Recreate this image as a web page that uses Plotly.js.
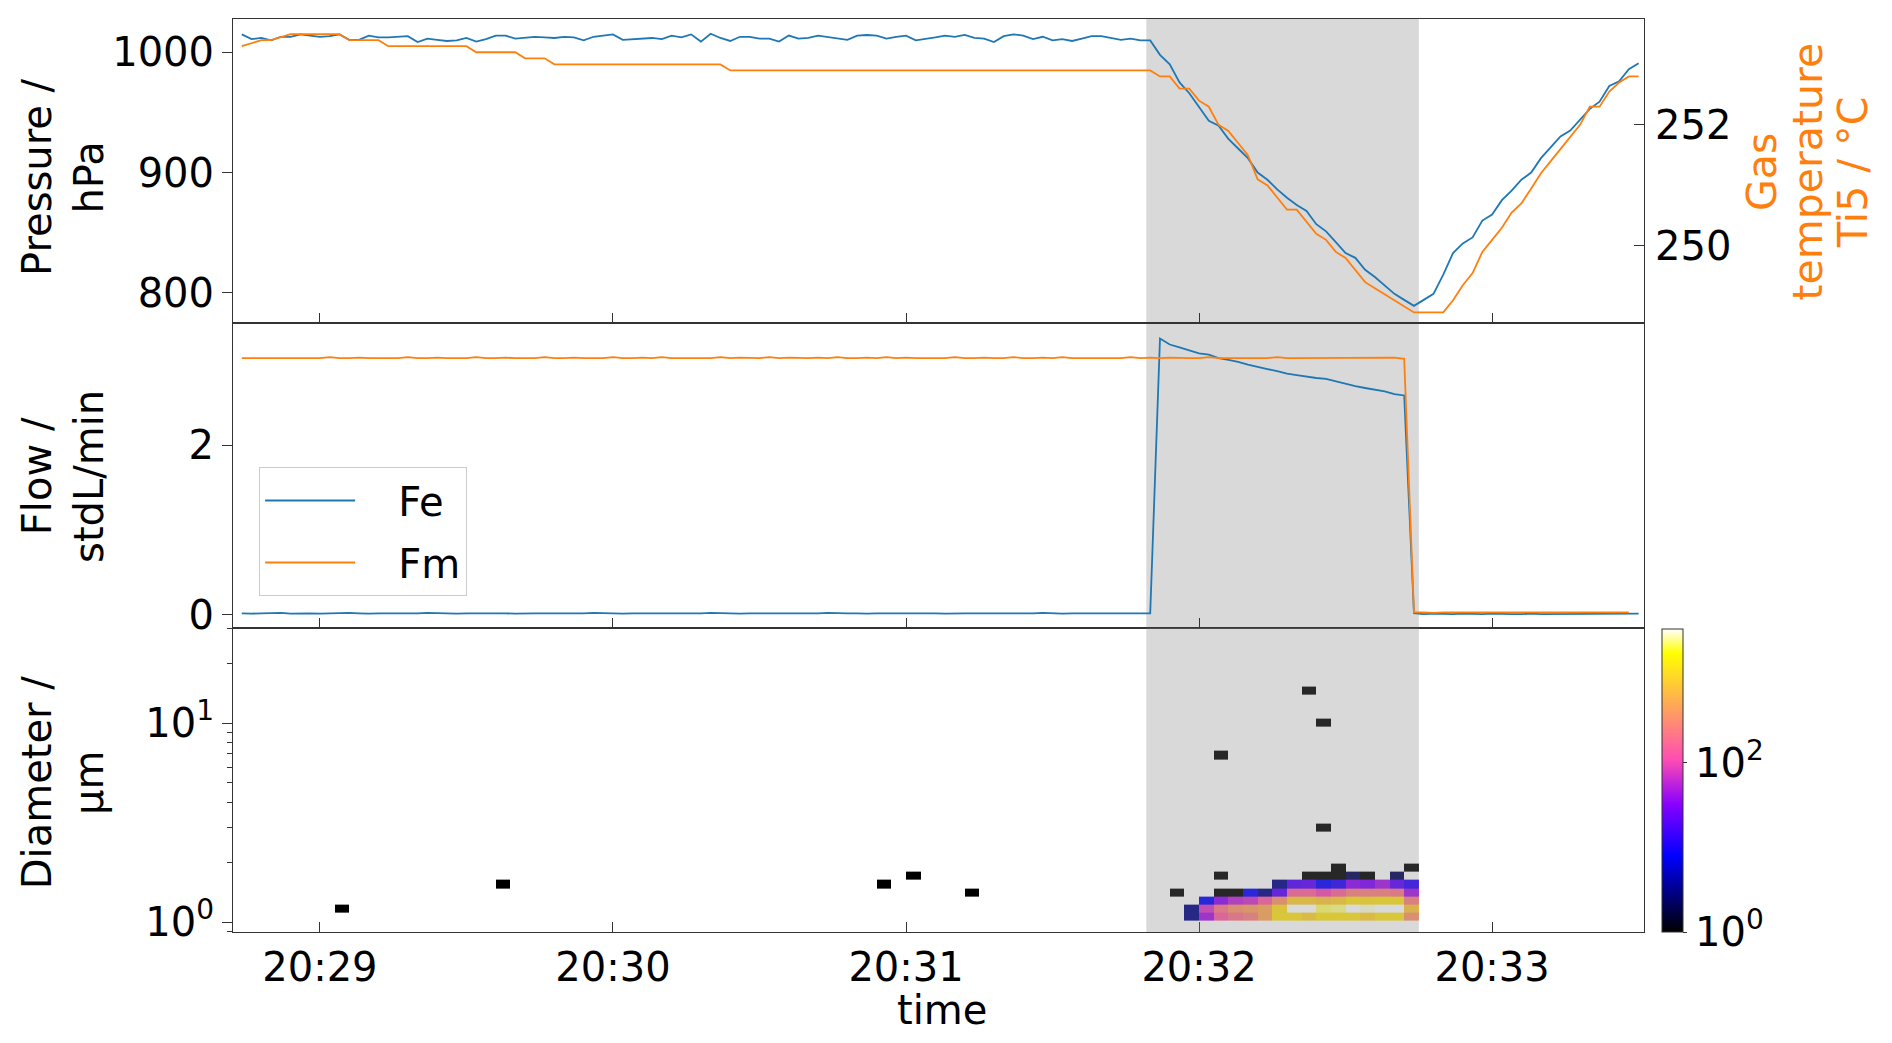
<!DOCTYPE html>
<html><head><meta charset="utf-8">
<script src="https://cdn.plot.ly/plotly-3.0.1.min.js"></script>
<style>html,body{margin:0;padding:0;background:#fff}#chart{width:1892px;height:1043px}</style>
</head><body><div id="chart"></div>
<script>
// ---------------- data ----------------
const DAY = '2024-01-01';
const sampleStart = '20:28:44';   // first sample
const sampleStep = 2;             // seconds between samples

const pressure = [
1015,1011,1012,1010,1013,1013,1015,1014,1013,1013.5,
1015,1010.5,1010.5,1014,1012.5,1012.5,1013,1013.5,1008.6,1011.5,
1010.5,1009.5,1010,1012,1009,1011,1014,1014,1011.5,1012,
1013,1012.5,1012,1013,1012.5,1010,1013,1014,1015,1010.5,
1011,1011.5,1012,1011,1014,1012.5,1015,1009,1015.5,1012,
1009.5,1013,1013,1011.5,1011.5,1009,1014,1011.5,1012,1014,
1013,1011.5,1010.5,1014,1014.5,1014,1011.5,1013,1014,1010,
1011,1012.5,1014,1013,1014.5,1012,1011.5,1008.6,1013.5,1015,
1014,1011,1013,1010,1011,1009.5,1011.5,1013.5,1013.5,1012,
1010.5,1011.5,1010,1010,998,990,975,966,955,943,
939,928,920,912,900,894,886,879,873,868,
857,851,842,833,829,819,813,806,799,794,
789,794,799,815,833,841,846,860,865,877,
885,894,900,912,921,930,935,944,953,959,
972,976,986,991];

const gasTemp = [
253.3,253.35,253.4,253.4,253.45,253.5,253.5,253.5,253.5,253.5,
253.5,253.4,253.4,253.4,253.4,253.3,253.3,253.3,253.3,253.3,
253.3,253.3,253.3,253.3,253.2,253.2,253.2,253.2,253.2,253.1,
253.1,253.1,253.0,253.0,253.0,253.0,253.0,253.0,253.0,253.0,
253.0,253.0,253.0,253.0,253.0,253.0,253.0,253.0,253.0,253.0,
252.9,252.9,252.9,252.9,252.9,252.9,252.9,252.9,252.9,252.9,
252.9,252.9,252.9,252.9,252.9,252.9,252.9,252.9,252.9,252.9,
252.9,252.9,252.9,252.9,252.9,252.9,252.9,252.9,252.9,252.9,
252.9,252.9,252.9,252.9,252.9,252.9,252.9,252.9,252.9,252.9,
252.9,252.9,252.9,252.9,252.8,252.8,252.6,252.6,252.4,252.3,
252.0,251.9,251.7,251.5,251.1,251.0,250.8,250.6,250.6,250.4,
250.2,250.1,249.9,249.8,249.6,249.4,249.3,249.2,249.1,249.0,
248.9,248.9,248.9,248.9,249.1,249.35,249.55,249.9,250.1,250.3,
250.55,250.7,250.95,251.2,251.4,251.6,251.8,252.0,252.3,252.3,
252.55,252.7,252.8,252.8];

const flowFe = [
0.02,0.015,0.02,0.02,0.025,0.015,0.02,0.02,0.015,0.02,
0.02,0.025,0.02,0.015,0.02,0.02,0.02,0.015,0.02,0.025,
0.02,0.02,0.015,0.02,0.02,0.02,0.025,0.02,0.015,0.02,
0.02,0.02,0.02,0.015,0.02,0.02,0.025,0.02,0.02,0.015,
0.02,0.02,0.02,0.02,0.015,0.02,0.02,0.02,0.025,0.02,
0.02,0.015,0.02,0.02,0.02,0.02,0.02,0.015,0.02,0.02,
0.025,0.02,0.02,0.02,0.015,0.02,0.02,0.02,0.02,0.025,
0.02,0.02,0.015,0.02,0.02,0.02,0.02,0.015,0.02,0.02,
0.02,0.02,0.025,0.02,0.015,0.02,0.02,0.02,0.015,0.02,
0.02,0.015,0.02,0.02,3.26,3.19,3.155,3.12,3.085,3.07,
3.03,3.008,2.985,2.952,2.922,2.90,2.876,2.846,2.83,2.81,
2.795,2.784,2.754,2.724,2.70,2.677,2.66,2.636,2.605,2.589,
0.02,0.01,0.015,0.01,0.01,0.015,0.01,0.01,0.015,0.01,
0.01,0.01,0.015,0.01,0.01,0.01,0.015,0.01,0.01,0.015,
0.01,0.01,0.01,0.015];

const flowFm = [
3.03,3.03,3.035,3.03,3.03,3.03,3.035,3.03,3.03,3.04,
3.03,3.03,3.035,3.03,3.03,3.03,3.03,3.04,3.03,3.03,
3.035,3.03,3.03,3.03,3.04,3.03,3.03,3.035,3.03,3.03,
3.03,3.04,3.03,3.03,3.035,3.03,3.03,3.03,3.04,3.03,
3.03,3.035,3.03,3.04,3.03,3.03,3.035,3.03,3.03,3.04,
3.03,3.035,3.03,3.03,3.04,3.03,3.035,3.03,3.03,3.035,
3.03,3.04,3.03,3.03,3.035,3.03,3.04,3.03,3.035,3.03,
3.03,3.035,3.03,3.04,3.03,3.03,3.035,3.03,3.03,3.04,
3.03,3.03,3.035,3.03,3.04,3.03,3.03,3.035,3.03,3.03,
3.03,3.04,3.03,3.035,3.03,3.035,3.03,3.03,3.03,3.04,
3.03,3.03,3.035,3.03,3.03,3.03,3.04,3.03,3.03,3.03,
3.035,3.03,3.03,3.03,3.03,3.035,3.03,3.03,3.035,3.02,
0.03,0.03,0.025,0.03,0.03,0.03,0.025,0.03,0.03,0.03,
0.03,0.025,0.03,0.03,0.03,0.03,0.025,0.03,0.03,0.03,
0.025,0.03,0.03];

// particle size distribution: 3-s time bins, log-spaced diameter bins (µm)
const binStart = '20:29:00';
const binSeconds = 3;
const binCount = 75;
const diameterEdges = [1.020,1.119,1.229,1.349,1.481,1.626,1.784,1.959,2.150,2.361,
  2.591,2.845,3.122,3.428,3.763,4.131,4.534,4.977,5.464,5.998,
  6.584,7.228,7.934,8.710,9.561,10.50,11.52,12.65,13.88,15.24];
// dense block: counts per diameter row, 16 time bins starting at 20:31:57
const blockStart = '20:31:57';
const countsRow0 = [3,45,140,200,250,480,1300,1300,1000,1300,1300,1300,1000,1300,1300,350];
const countsRow1 = [3,80,220,350,420,480,1200,3800,3800,2600,2800,3800,3500,3800,3800,800];
const countsRow2 = [null,8,35,60,70,140,350,900,900,800,900,1300,1200,1300,1300,250];
const countsRow3 = [null,null,1,1,8,3,20,160,160,100,160,250,250,250,220,45];
const countsRow4 = [null,null,null,null,null,null,3,18,20,8,11,35,30,45,20,12];
const countsRow5 = [null,null,1,null,null,null,null,null,1,1,1,2,1,null,2,null];
const countsRow6 = [null,null,null,null,null,null,null,null,null,null,1,null,null,null,null,1];
// isolated single counts
const singleTimes = ['20:29:03','20:29:36','20:30:54','20:31:00','20:31:12','20:31:54','20:32:03','20:32:21','20:32:24','20:32:24'];
const singleRows  = [1,4,4,5,3,3,20,28,24,11];
const singleCounts = [1,1,1,1,1,1,1,1,1,1];

const countMax = 3800;
const shadeStart = '20:31:49.2';
const shadeEnd = '20:32:45.0';
const viewStart = '20:28:42.2';
const viewEnd = '20:33:31.1';
const timeTicks = ['20:29:00','20:30:00','20:31:00','20:32:00','20:33:00'];
const timeTickText = ['20:29','20:30','20:31','20:32','20:33'];

// ---------------- helpers ----------------
function toSec(s){const p=s.split(':').map(Number);return p[0]*3600+p[1]*60+p[2];}
function stamp(sec){
  const h=Math.floor(sec/3600), m=Math.floor((sec-h*3600)/60), s=sec-h*3600-m*60;
  return DAY+' '+String(h).padStart(2,'0')+':'+String(m).padStart(2,'0')+':'+s.toFixed(3).padStart(6,'0');
}
const d = s => stamp(toSec(s));
const t0 = toSec(sampleStart);
const times = pressure.map((_,i)=>stamp(t0+i*sampleStep));

// heatmap grid
const b0 = toSec(binStart);
const xEdges = [];
for(let k=0;k<=binCount;k++) xEdges.push(stamp(b0+k*binSeconds));
const nRows = diameterEdges.length-1;
const z = [];
for(let r=0;r<nRows;r++){ z.push(new Array(binCount).fill(null)); }
const block = [countsRow0,countsRow1,countsRow2,countsRow3,countsRow4,countsRow5,countsRow6];
const c0 = (toSec(blockStart)-b0)/binSeconds;
block.forEach((row,r)=>row.forEach((v,c)=>{ if(v!==null) z[r][c0+c]=Math.log10(v); }));
singleTimes.forEach((t,i)=>{ const c=(toSec(t)-b0)/binSeconds; z[singleRows[i]][c]=Math.log10(singleCounts[i]); });

// ---------------- traces ----------------
const BLUE='#1f77b4', ORANGE='#ff7f0e';
const FONT='DejaVu Sans';
const NB='\u00a0\u00a0\u00a0';
const traces = [
  {x:times, y:pressure, xaxis:'x', yaxis:'y', type:'scatter', mode:'lines', line:{color:BLUE,width:1.8}, showlegend:false},
  {x:times, y:gasTemp, xaxis:'x', yaxis:'y4', type:'scatter', mode:'lines', line:{color:ORANGE,width:1.8}, showlegend:false},
  {x:times, y:flowFe, xaxis:'x2', yaxis:'y2', type:'scatter', mode:'lines', name:NB+'Fe', legendgroup:'a', line:{color:BLUE,width:1.8}},
  {x:times, y:flowFm, xaxis:'x2', yaxis:'y2', type:'scatter', mode:'lines', name:NB+'Fm', legendgroup:'b', line:{color:ORANGE,width:1.8}},
  {type:'heatmap', x:xEdges, y:diameterEdges, z:z, xaxis:'x3', yaxis:'y3', zmin:0, zmax:Math.log10(countMax),
   showlegend:false, hoverongaps:false,
   colorscale:[[0,'rgb(0,0,0)'],[0.25,'rgb(0,0,255)'],[0.42,'rgb(135,0,255)'],[0.57,'rgb(255,77,179)'],[0.92,'rgb(255,255,0)'],[1,'rgb(255,255,255)']],
   colorbar:{x:1.0127, xanchor:'left', y:0, yanchor:'bottom', len:0.332, lenmode:'fraction', thickness:21,
     xpad:0, ypad:0, outlinewidth:1, outlinecolor:'#333', tickvals:[0,2], ticktext:['10<sup>0</sup>','10<sup>2</sup>'],
     ticks:'outside', ticklen:4, tickcolor:'#333', tickfont:{family:FONT,size:40,color:'#000'}}}
];

const xCommon = {type:'date', range:[d(viewStart), d(viewEnd)], tickmode:'array', tickvals:timeTicks.map(d), ticktext:timeTickText,
  ticks:'inside', ticklen:10, tickcolor:'#333', showline:true, mirror:true, linecolor:'#333', linewidth:1, showgrid:false, zeroline:false,
  tickfont:{family:FONT,size:40,color:'#000'}};
const yCommon = {showline:true, mirror:true, linecolor:'#333', linewidth:1, showgrid:false, zeroline:false, ticks:'outside', ticklen:10,
  tickcolor:'#333', tickfont:{family:FONT,size:40,color:'#000'}, ticklabelstandoff:0};

const shade = (xr,yr,layer)=>({type:'rect', xref:xr, yref:yr+' domain', x0:d(shadeStart), x1:d(shadeEnd), y0:0, y1:1,
  fillcolor:'rgba(128,128,128,0.3)', line:{width:0}, layer:layer});

const ann = (text,x,y,color,size)=>({text:text, xref:'paper', yref:'paper', x:x, y:y, xanchor:'center', yanchor:'middle',
  textangle:-90, showarrow:false, font:{family:FONT,size:size||40,color:color||'#000'}});

const layout = {
  width:1892, height:1043, paper_bgcolor:'#fff', plot_bgcolor:'rgba(0,0,0,0)',
  margin:{l:233, r:248, t:19, b:111},
  font:{family:FONT, size:40, color:'#000'},
  showlegend:true,
  legend:{x:0.0185, y:0.5093, xanchor:'left', yanchor:'top', bordercolor:'#cccccc', borderwidth:1,
    bgcolor:'rgba(255,255,255,0.8)', font:{family:FONT,size:40,color:'#000'}, itemwidth:90, tracegroupgap:7, traceorder:'grouped'},
  xaxis: Object.assign({}, xCommon, {anchor:'y', showticklabels:false}),
  xaxis2: Object.assign({}, xCommon, {anchor:'y2', showticklabels:false}),
  xaxis3: Object.assign({}, xCommon, {anchor:'y3', showticklabels:true}),
  yaxis: Object.assign({}, yCommon, {domain:[0.6667,1], anchor:'x', range:[774.5,1027.8], tickvals:[800,900,1000]}),
  yaxis4: Object.assign({}, yCommon, {overlaying:'y', side:'right', anchor:'x', range:[248.72,253.75], tickvals:[250,252],
    ticks:'inside', showline:false, mirror:false, ticklabelstandoff:10}),
  yaxis2: Object.assign({}, yCommon, {domain:[0.3333,0.6667], anchor:'x2', range:[-0.15,3.44], tickvals:[0,2]}),
  yaxis3: Object.assign({}, yCommon, {domain:[0,0.3333], anchor:'x3', type:'log', range:[-0.05,1.479], tickvals:[1,10],
    ticktext:['10<sup>0</sup>','10<sup>1</sup>'],
    minor:{tickvals:[0.9,2,3,4,5,6,7,8,9,20,30], ticks:'outside', ticklen:5, tickcolor:'#333'}}),
  shapes:[shade('x','y','below'), shade('x2','y2','below'), shade('x3','y3','above')],
  annotations:[
    ann('Pressure /<br>hPa', -0.1205, 0.827),
    ann('Flow /<br>stdL/min', -0.1205, 0.4995),
    ann('Diameter /<br>µm', -0.1205, 0.164),
    ann('Gas', 1.0836, 0.8324, ORANGE, 41),
    ann('temperature', 1.1159, 0.8324, ORANGE, 41),
    ann('Ti5 / °C', 1.1481, 0.8324, ORANGE, 41),
    {text:'time', xref:'paper', yref:'paper', x:0.5025, y:-0.0858, xanchor:'center', yanchor:'middle', showarrow:false,
     font:{family:FONT,size:40,color:'#000'}}
  ]
};

Plotly.newPlot('chart', traces, layout, {displayModeBar:false, staticPlot:true});
</script>
</body></html>
